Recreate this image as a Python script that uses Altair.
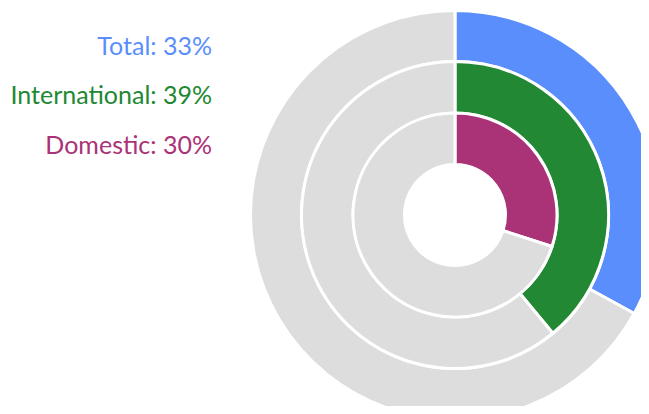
import altair as alt
import pandas as pd

rings = ["Total", "International", "Domestic"]
shares = [33, 39, 30]
colours = ["#5B8EFD", "#228833", "#AA3377", "#DDDDDD"]

rows = []
for r, s in zip(rings, shares):
    rows.append({"ring": r, "part": r, "value": s, "order": 0})
    rows.append({"ring": r, "part": "Rest", "value": 100 - s, "order": 1})
df = pd.DataFrame(rows)
labels = pd.DataFrame({"ring": rings, "label": [f"{r}: {s}%" for r, s in zip(rings, shares)]})

color_scale = alt.Scale(domain=rings + ["Rest"], range=colours)
cx, cy = 447, 207
bounds = {"Total": (153.5, 204.5), "International": (102, 153.5), "Domestic": (50.5, 102)}

layers = []
for r in rings:
    inner, outer = bounds[r]
    layers.append(
        alt.Chart(df)
        .transform_filter(alt.datum.ring == r)
        .mark_arc(stroke="white", strokeWidth=3, radius=outer, radius2=inner)
        .encode(
            theta=alt.Theta("value:Q", stack=True, scale=alt.Scale(domain=[0, 100])),
            order=alt.Order("order:Q"),
            color=alt.Color("part:N", scale=color_scale, legend=None),
            x=alt.value(cx),
            y=alt.value(cy),
        )
    )

text = (
    alt.Chart(labels)
    .mark_text(align="right", baseline="alphabetic", font="Lato", fontSize=25)
    .encode(
        x=alt.value(204),
        y=alt.Y("ring:N", scale=alt.Scale(type="point", domain=rings, range=[46.5, 145.5], padding=0), axis=None),
        text="label:N",
        color=alt.Color("ring:N", scale=color_scale, legend=None),
    )
)

chart = (
    alt.layer(*layers, text)
    .resolve_scale(theta="independent")
    .properties(width=633, height=398, autosize="none", padding=0)
    .configure_view(stroke=None)
)
chart.save("out.html", embed_options={"renderer": "svg", "actions": False})
